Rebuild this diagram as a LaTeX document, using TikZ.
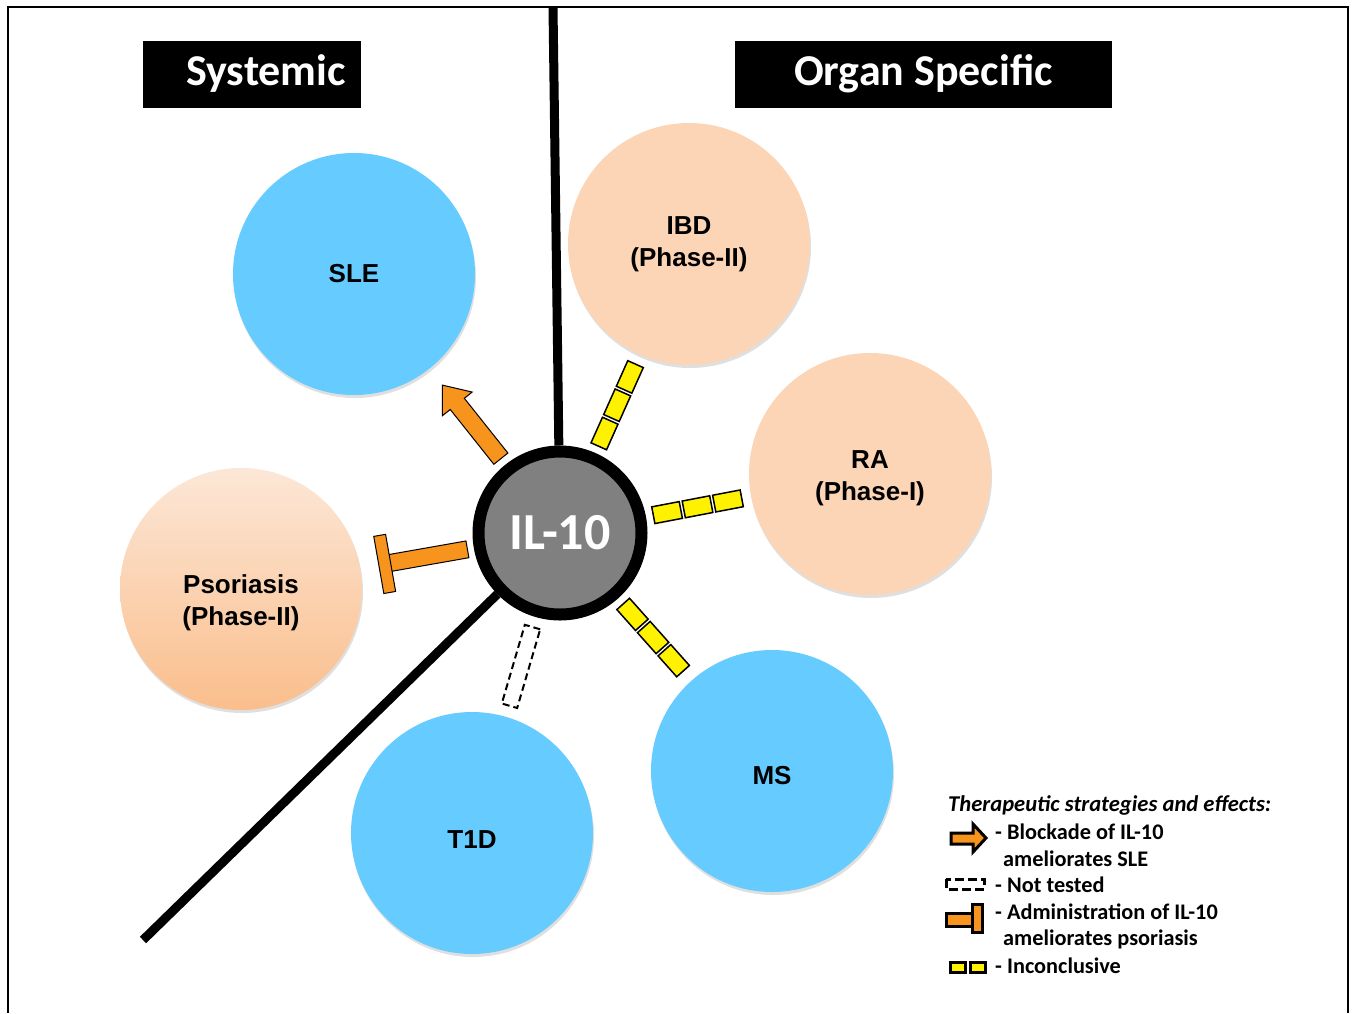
\documentclass[tikz,border=0pt]{standalone}
\usepackage{fontspec}
\setmainfont{Liberation Sans}
\newfontfamily\calfont{Carlito}
\usetikzlibrary{shadows}

\definecolor{skyblue}{RGB}{102,204,255}
\definecolor{peach}{RGB}{251,213,181}
\definecolor{peachlight}{RGB}{252,231,215}
\definecolor{peachdark}{RGB}{250,190,140}
\definecolor{ilorange}{RGB}{247,148,29}
\definecolor{ilgray}{RGB}{128,128,128}

\tikzset{
  disease/.style={circle, minimum size=242pt, inner sep=0pt, align=center,
    font=\fontsize{26}{32}\selectfont\bfseries,
    drop shadow={shadow xshift=1pt, shadow yshift=-3pt, opacity=0.25}},
  sys/.style={disease, fill=skyblue},
  org/.style={disease, fill=peach},
  header/.style={fill=black, text=white, minimum height=67pt, inner sep=0pt,
    font=\calfont\fontsize{44}{44}\selectfont\bfseries},
  inconcl/.style={fill=yellow, draw=black, line width=1.5pt},
  blockade/.style={fill=ilorange, draw=black, line width=1pt},
  legtext/.style={anchor=west, inner sep=0pt, font=\calfont\fontsize{22.3}{22.3}\selectfont\bfseries},
}
% invisible strut to lower a label inside its circle
\newcommand{\lowerby}[1]{\rule{0pt}{#1}}

\begin{document}
\begin{tikzpicture}[x=1pt, y=-1pt]
  \useasboundingbox (0,0) rectangle (1355,1013);
  % frame
  \draw[line width=2pt] (8,1013) -- (8,7) -- (1348,7) -- (1348,1013);

  % headers
  \node[header, minimum width=218pt] (systemic) at (252,74) {\hspace*{28pt}Systemic};
  \node[header, minimum width=377pt] (organ) at (923.5,74) {Organ Specific};

  % centre
  \node[circle, fill=ilgray, draw=black, line width=12pt, minimum size=163pt, inner sep=0pt,
    text=white, font=\calfont\fontsize{52}{52}\selectfont\bfseries] (il10) at (560,533) {IL-10};

  % dividers
  \coordinate (divtop) at (553,7);
  \coordinate (divbot) at (143,940);
  \draw[line width=9pt] (divtop) -- (il10);
  \draw[line width=9pt] (divbot) -- (il10);

  % diseases
  \node[sys] (sle) at (354,274) {SLE};
  \node[org] (ibd) at (689,244) {IBD\\(Phase-II)};
  \node[org] (ra) at (870,474) {\lowerby{27pt}RA\\(Phase-I)};
  \node[disease, top color=peachlight, bottom color=peachdark] (psoriasis) at (241,589) {\lowerby{47pt}Psoriasis\\(Phase-II)};
  \node[sys] (t1d) at (472,833) {\lowerby{31pt}T1D};
  \node[sys] (ms) at (772,771) {\lowerby{27pt}MS};

  % blockade of IL-10 -> SLE
  \begin{scope}[shift={(il10.center)}, rotate=128.5]
    \draw[blockade] (95,-9) -- (165,-9) -- (165,-19) -- (189,0) -- (165,19) -- (165,9) -- (95,9) -- cycle;
  \end{scope}

  % administration of IL-10 -> psoriasis
  \begin{scope}[shift={(il10.center)}, rotate=190]
    \draw[blockade] (94,-8.5) rectangle (174,8.5);
    \draw[blockade] (172,-29) rectangle (184,29);
  \end{scope}

  % inconclusive: IBD, RA, MS
  \foreach \ang in {65.9, 10.8, -48.3} {
    \begin{scope}[shift={(il10.center)}, rotate=\ang]
      \foreach \r in {95, 126, 157}
        \draw[inconcl] (\r,-8.5) rectangle ++(28,17);
    \end{scope}
  }

  % not tested: T1D
  \begin{scope}[shift={(il10.center)}, rotate=-106.3]
    \draw[line width=2pt, dash pattern=on 7pt off 4pt] (98,-8) rectangle (180,8);
  \end{scope}

  % legend
  \node[anchor=west, inner sep=0pt, font=\calfont\fontsize{22.6}{22.6}\selectfont\bfseries\itshape] (legtitle) at (948,805) {Therapeutic strategies and effects:};
  \draw[blockade, line width=3pt] (951,833) -- (973,833) -- (973,824) -- (986,838) -- (973,852) -- (973,844) -- (951,844) -- cycle;
  \draw[line width=3pt, dash pattern=on 9pt off 4pt] (946,879) rectangle (984,889);
  \draw[blockade, line width=3pt] (946,913) rectangle (972,926);
  \draw[blockade, line width=3pt] (972,904) rectangle (982,932);
  \draw[inconcl, line width=2.5pt] (950.5,962.5) rectangle (965.5,972.5);
  \draw[inconcl, line width=2.5pt] (970.5,962.5) rectangle (985.5,972.5);
  \foreach \tx/\ty/\txt [count=\i] in {995/832/{- Blockade of IL-10}, 1003/859/{ameliorates SLE},
      995/885/{- Not tested}, 995/912/{- Administration of IL-10},
      1003/939/{ameliorates psoriasis}, 995/966/{- Inconclusive}}
    \node[legtext] (leg\i) at (\tx,\ty) {\txt};
\end{tikzpicture}
\end{document}
